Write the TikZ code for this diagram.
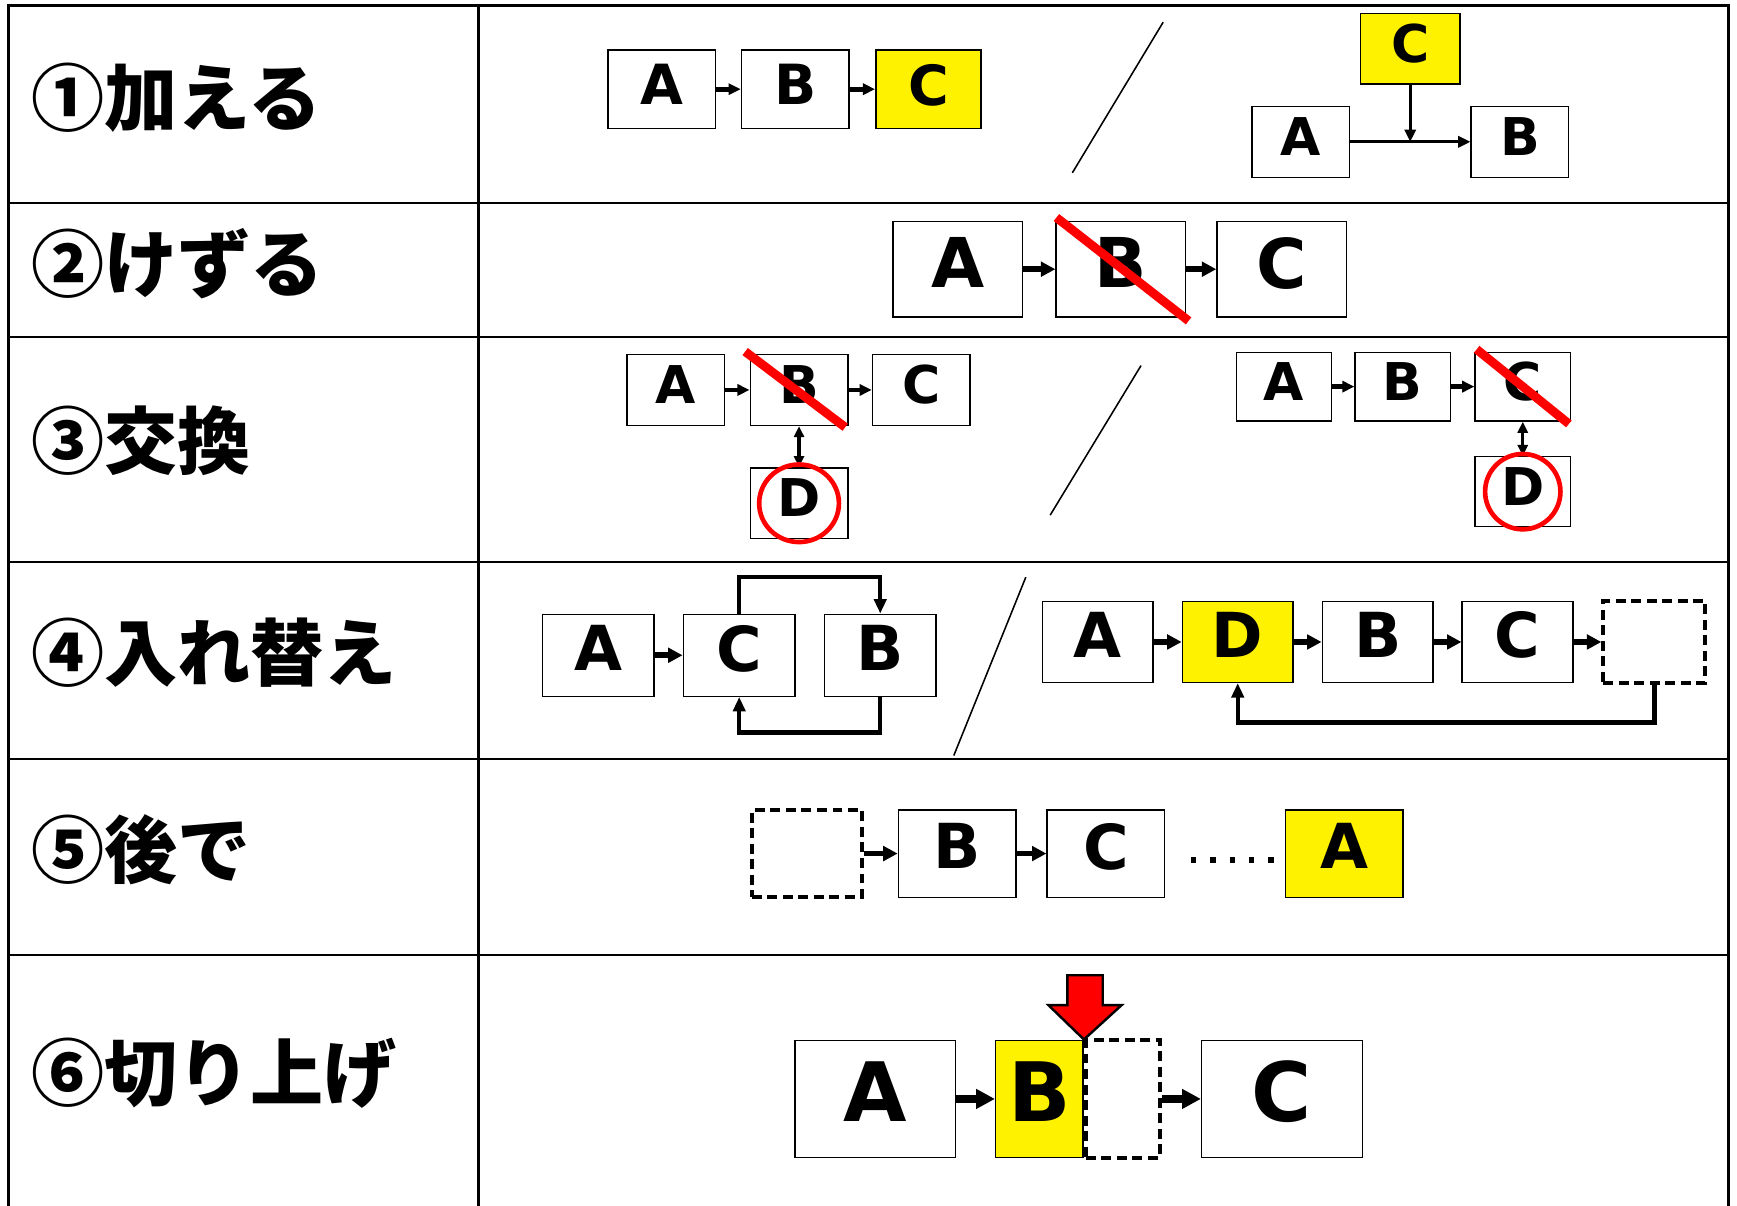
\documentclass[tikz,border=0pt]{standalone}
\usepackage{fontspec}
\setmainfont{DejaVu Sans}
\newfontfamily\cjk{Noto Sans CJK JP}
\usetikzlibrary{arrows}
\usetikzlibrary{arrows.meta}
\usetikzlibrary{positioning}
\usetikzlibrary{calc}

\begin{document}
\begin{tikzpicture}[x=1pt,y=-1pt]
\tikzstyle{box} = [rectangle, draw, fill=white, line width=1.3pt, inner sep=0pt]
\tikzstyle{hl} = [box, fill=yellow]
\tikzstyle{gap} = [box, line width=3.6pt, dash pattern=on 9pt off 5pt]
\tikzstyle{title} = [anchor=west, inner sep=0pt, font=\cjk\bfseries\fontsize{66}{66}\selectfont]
\tikzstyle{line} = [draw, -{Triangle[length=11pt,width=10pt]}, line width=4.2pt]
\tikzstyle{thin} = [draw, {Triangle[length=10pt,width=9pt]}-{Triangle[length=10pt,width=9pt]}, line width=3pt]
\tikzstyle{fat} = [draw, -{Triangle[length=13pt,width=13pt]}, line width=5pt]
\tikzstyle{huge} = [draw, -{Triangle[length=17pt,width=17pt]}, line width=7pt]
\tikzstyle{loop} = [draw, -{Triangle[length=13pt,width=11pt]}, line width=4pt]
\tikzstyle{slash} = [draw, line width=1.4pt]
\tikzstyle{strike} = [draw=red, line width=8pt]
\tikzstyle{ring} = [draw=red, line width=4.2pt]
\tikzstyle{grid} = [draw, line width=2pt]
\tikzset{
  small/.style={minimum width=97pt, minimum height=71pt, text depth=8pt, font=\bfseries\fontsize{50}{50}\selectfont},
  tiny/.style={minimum width=88pt, minimum height=64pt, text depth=10pt, font=\bfseries\fontsize{47}{47}\selectfont},
  mid/.style={minimum width=117pt, minimum height=86pt, text depth=12pt, font=\bfseries\fontsize{62}{62}\selectfont},
  wide/.style={minimum width=101pt, minimum height=74pt, text depth=13pt, font=\bfseries\fontsize{56}{56}\selectfont},
  big/.style={minimum height=106pt, text depth=14pt, font=\bfseries\fontsize{74}{74}\selectfont}
}
\useasboundingbox (0,0) rectangle (1568,1088);
% table
\draw[grid, line width=2.6pt] (8,1090) -- (8,5) -- (1560,5) -- (1560,1090);
\draw[grid] (432,5) -- (432,1090);
\foreach \y in {183,304,507,685,862}
  \draw[grid] (8,\y) -- (1560,\y);
% titles
\node[title] (t1) at (28,88) {①加える};
\node[title] (t2) at (28,238) {②けずる};
\node[title] (t3) at (28,398) {③交換};
\node[title] (t4) at (28,589) {④入れ替え};
\node[title] (t5) at (28,767) {⑤後で};
\node[title] (t6) at (28,969) {⑥切り上げ};
% row 1
\node[box, small] (a1) at (597.5,80.5) {A};
\node[box, small, right=22pt of a1] (b1) {B};
\node[hl, small, minimum width=95pt, right=23pt of b1] (c1) {C};
\draw[line] (a1) -- (b1);
\draw[line] (b1) -- (c1);
\coordinate (s1a) at (968,156);
\coordinate (s1b) at (1050,20);
\draw[slash] (s1a) -- (s1b);
\node[hl, tiny, minimum width=90pt] (c1r) at (1273,44) {C};
\node[box, tiny] (a1r) at (1174,128) {A};
\node[box, tiny] (b1r) at (1372,128) {B};
\draw[line, line width=3pt] (a1r) -- (b1r);
\draw[line, line width=3pt] (c1r) -- (c1r |- a1r);
% row 2
\node[box, mid] (a2) at (864.5,243) {A};
\node[box, mid, right=29pt of a2] (b2) {B};
\node[box, mid, right=27pt of b2] (c2) {C};
\draw[fat] (a2) -- (b2);
\draw[fat] (b2) -- (c2);
\draw[strike] ([shift={(1,-3)}]b2.north west) -- ([shift={(2,3)}]b2.south east);
% row 3
\node[box, tiny] (a3) at (610,352) {A};
\node[box, tiny, right=22pt of a3] (b3) {B};
\node[box, tiny, right=21pt of b3] (c3) {C};
\node[box, tiny, below=37pt of b3] (d3) {D};
\draw[line] (a3) -- (b3);
\draw[line] (b3) -- (c3);
\draw[thin] (b3) -- (d3);
\draw[strike] ([shift={(-4,-2)}]b3.north west) -- ([shift={(-3,1)}]b3.south east);
\draw[ring] (d3) ellipse [x radius=36, y radius=35];
\coordinate (s3a) at (948,465);
\coordinate (s3b) at (1030,330);
\draw[slash] (s3a) -- (s3b);
\node[box, tiny, minimum width=86pt, minimum height=62pt] (a3r) at (1159,349) {A};
\node[box, tiny, minimum width=86pt, minimum height=62pt, right=20pt of a3r] (b3r) {B};
\node[box, tiny, minimum width=86pt, minimum height=62pt, right=21pt of b3r] (c3r) {C};
\node[box, tiny, minimum width=86pt, minimum height=63pt, below=31pt of c3r] (d3r) {D};
\draw[line] (a3r) -- (b3r);
\draw[line] (b3r) -- (c3r);
\draw[thin] (c3r) -- (d3r);
\draw[strike] ([shift={(2,-2)}]c3r.north west) -- ([shift={(-2,2)}]c3r.south east);
\draw[ring] (d3r) ellipse [x radius=34, y radius=34];
% row 4
\node[box, wide] (a4) at (540,591.5) {A};
\node[box, wide, right=25pt of a4] (c4) {C};
\node[box, wide, right=25pt of c4] (b4) {B};
\draw[fat] (a4) -- (c4);
\draw[loop] (c4.north) -- ++(0,-33) -| (b4.north);
\draw[loop] (b4.south) -- ++(0,32) -| (c4.south);
\coordinate (s4a) at (861,682);
\coordinate (s4b) at (926,521);
\draw[slash] (s4a) -- (s4b);
\node[box, wide, minimum width=100pt, minimum height=73pt] (a4r) at (991,579.5) {A};
\node[hl, wide, minimum width=100pt, minimum height=73pt, right=25pt of a4r] (d4r) {D};
\node[box, wide, minimum width=100pt, minimum height=73pt, right=25pt of d4r] (b4r) {B};
\node[box, wide, minimum width=100pt, minimum height=73pt, right=25pt of b4r] (c4r) {C};
\node[gap, wide, minimum width=92pt, minimum height=74pt, right=25pt of c4r] (e4r) {};
\draw[fat] (a4r) -- (d4r);
\draw[fat] (d4r) -- (b4r);
\draw[fat] (b4r) -- (c4r);
\draw[fat] (c4r) -- (e4r);
\draw[loop] (e4r.south) -- ++(0,34) -| (d4r.south);
% row 5
\node[gap, minimum width=100pt, minimum height=78pt] (e5) at (728.5,770.5) {};
\node[box, wide, minimum width=106pt, minimum height=79pt, right=30pt of e5] (b5) {B};
\node[box, wide, minimum width=106pt, minimum height=79pt, right=27pt of b5] (c5) {C};
\node[hl, wide, minimum width=106pt, minimum height=79pt, right=108pt of c5] (a5) {A};
\draw[fat] (e5) -- (b5);
\draw[fat] (b5) -- (c5);
\draw[line width=5pt, dash pattern=on 5pt off 12.5pt, shorten <=23pt, shorten >=8pt]
  ([yshift=-6pt]c5.east) -- ([yshift=-6pt]a5.west);
% row 6
\node[box, big, minimum width=145pt] (a6) at (790,992) {A};
\node[hl, big, minimum width=79pt, right=35pt of a6] (b6) {B};
\node[gap, big, minimum width=67pt, right=0pt of b6] (g6) {};
\node[box, big, minimum width=145pt, right=35pt of g6] (c6) {C};
\draw[huge] (a6) -- (b6);
\draw[huge] (g6) -- (c6);
\draw[fill=red, line width=2.2pt, line join=miter] (b6.north east) -- ++(34,-31) -- ++(-17,0)
  -- ++(0,-27) -- ++(-32,0) -- ++(0,27) -- ++(-17,0) -- cycle;
\end{tikzpicture}
\end{document}
